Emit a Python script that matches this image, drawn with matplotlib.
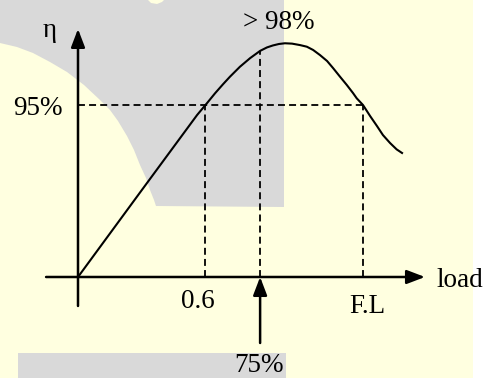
import matplotlib
matplotlib.use('Agg')
import matplotlib.pyplot as plt
from matplotlib.patches import Polygon, Rectangle

plt.rcParams['font.family'] = ['Liberation Serif', 'DejaVu Serif']
plt.rcParams['lines.scale_dashes'] = False

# efficiency vs load sketch (load as fraction of full load, eta in sketch units)
load = [0.0, 0.228, 0.418, 0.453, 0.481, 0.509, 0.533, 0.568, 0.604, 0.639,
        0.663, 0.684, 0.705, 0.726, 0.751, 0.779, 0.803, 0.825, 0.849, 0.874,
        0.895, 0.919, 0.943, 0.965, 0.978, 1.000, 1.025, 1.049, 1.070, 1.095,
        1.118, 1.137]
eta = [0.0, 0.489, 0.895, 0.961, 1.015, 1.065, 1.106, 1.161, 1.209, 1.249,
       1.268, 1.279, 1.287, 1.291, 1.289, 1.281, 1.272, 1.254, 1.226, 1.193,
       1.154, 1.107, 1.061, 1.016, 0.987, 0.950, 0.889, 0.834, 0.784, 0.740,
       0.705, 0.685]

load_marks = [0.446, 0.639, 1.0]
load_labels = ['0.6', '75%', 'F.L']
eta_95 = 0.95
eta_95_label = '95%'
peak_label = '> 98%'

W, H = 495, 378


def px(x, y):
    # pixel position (from top-left) -> axes fraction
    return (x / W, 1 - y / H)


fig = plt.figure(figsize=(W / 100, H / 100), dpi=100, facecolor='white')
ax = fig.add_axes([0, 0, 1, 1])
ax.set_xlim(-0.2737, 1.4632)
ax.set_ylim(-0.5579, 1.5300)
ax.axis('off')

# page background
yellow = '#ffffe0'
grey = '#d9d9d9'
ax.add_patch(Rectangle((0, 0), 473 / W, 1, transform=ax.transAxes,
                       facecolor=yellow, edgecolor='none', zorder=0))
shape = [(0, 0), (148, 0), (151, 3), (157, 4), (162, 2), (164, 0), (284, 0),
         (284, 207), (156, 206), (154, 200), (150, 190), (146, 178),
         (140, 165), (134, 150), (127, 136), (118, 121), (110, 110),
         (100, 100), (84, 85), (67, 72), (50, 62), (33, 53), (17, 47), (0, 43)]
ax.add_patch(Polygon([px(*p) for p in shape], closed=True, transform=ax.transAxes,
                     facecolor=grey, edgecolor='none', zorder=0))
ax.add_patch(Rectangle(px(18, 378), 268 / W, 25 / H, transform=ax.transAxes,
                       facecolor=grey, edgecolor='none', zorder=0))

# axes with arrow heads
head = '-|>,head_length=1.1,head_width=0.42'
arrow = dict(arrowstyle=head, lw=1.8, color='k', shrinkA=0, shrinkB=0)
ax.annotate('', xy=(0, 1.370), xytext=(0, -0.160), arrowprops=arrow)
ax.annotate('', xy=(1.2175, 0), xytext=(-0.112, 0), arrowprops=arrow)

# curve
ax.plot(load, eta, color='k', lw=1.5, zorder=3, solid_joinstyle='round')

# guide lines
dash = dict(color='k', lw=1.3, dashes=(5, 3), zorder=2)
ax.plot([0, load_marks[2]], [eta_95, eta_95], **dash)
i75 = load.index(load_marks[1])
tops = [eta_95, eta[i75], eta_95]
for x, top in zip(load_marks, tops):
    ax.plot([x, x], [0, top], **dash)

# arrow pointing at 75% load
ax.annotate('', xy=(load_marks[1], 0), xytext=(load_marks[1], -0.3645),
            arrowprops=arrow)

fs = 19.5
txt = dict(textcoords='offset points', fontsize=fs, va='baseline')
ax.annotate(load_labels[0], (load_marks[0], 0), xytext=(-5.4, -22.3), ha='center', **txt)
ax.annotate(load_labels[1], (load_marks[1], 0), xytext=(-0.7, -68.4), ha='center', **txt)
ax.annotate(load_labels[2], (load_marks[2], 0), xytext=(2.9, -25.9), ha='center', **txt)
ax.annotate(eta_95_label, (0, eta_95), xytext=(-10.8, -7.2), ha='right', **txt)
ipk = eta.index(max(eta))
ax.annotate(peak_label, (load[ipk], eta[ipk]), xytext=(-4.3, 10.4), ha='center', **txt)
ax.annotate('η', (0, 1.370), xytext=(-20.5, -5.8), ha='center', **txt)
ax.annotate('load', (1.2175, 0), xytext=(8.6, -7.2), ha='left', **txt)

fig.savefig('out.png', dpi=100, facecolor='white')
